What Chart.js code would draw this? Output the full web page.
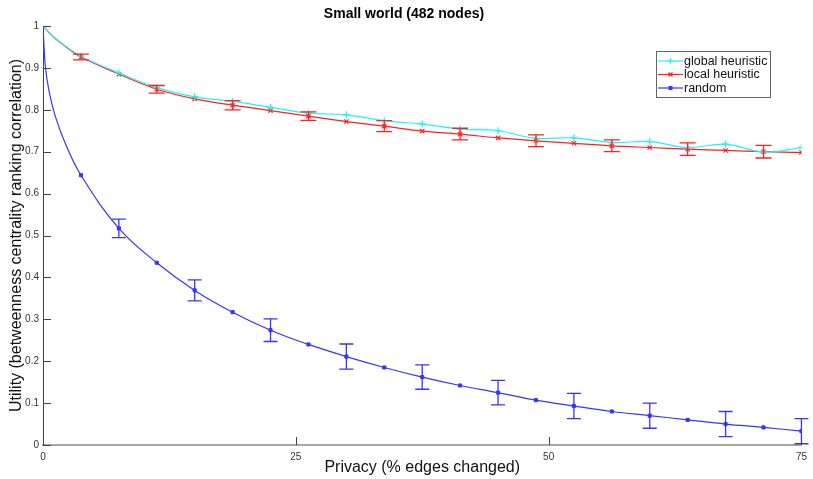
<!DOCTYPE html>
<html>
<head>
<meta charset="utf-8">
<script src="https://cdn.jsdelivr.net/npm/chart.js@4.4.0/dist/chart.umd.min.js"></script>
<style>
  html, body { margin: 0; padding: 0; background: #fff; }
  #chart { display: block; }
</style>
</head>
<body>
<canvas id="chart" width="813" height="479"></canvas>
<script>
// privacy levels where markers were plotted
const markerX = [3.75, 7.5, 11.25, 15, 18.75, 22.5, 26.25, 30, 33.75, 37.5,
                 41.25, 45, 48.75, 52.5, 56.25, 60, 63.75, 67.5, 71.25, 75];

const globalHeuristic = [0.928, 0.888, 0.853, 0.831, 0.820, 0.806, 0.792, 0.788, 0.774, 0.766,
                         0.754, 0.750, 0.732, 0.733, 0.722, 0.724, 0.710, 0.718, 0.699, 0.710];
const localHeuristic = [0.926, 0.885, 0.849, 0.826, 0.811, 0.798, 0.785, 0.772, 0.761, 0.749,
                        0.742, 0.733, 0.726, 0.720, 0.714, 0.710, 0.706, 0.703, 0.700, 0.698];
const randomUtil = [0.644, 0.517, 0.435, 0.369, 0.317, 0.274, 0.240, 0.211, 0.185, 0.162,
                    0.142, 0.125, 0.107, 0.093, 0.080, 0.070, 0.060, 0.050, 0.042, 0.033];

// error bar half-heights (null = no bar)
const localErr = [0.007, null, 0.009, null, 0.011, null, 0.010, null, 0.013, null,
                  0.014, null, 0.014, null, 0.014, null, 0.015, null, 0.015, null];
const randomErr = [null, 0.022, null, 0.025, null, 0.027, null, 0.030, null, 0.029,
                   null, 0.029, null, 0.030, null, 0.030, null, 0.030, null, 0.030];

// start of the curves (no markers)
const heurHeadX = [0, 1, 2];
const globalHead = [1, 0.975, 0.956];
const localHead = [1, 0.975, 0.955];
const randomHeadX = [0, 0.23, 0.59, 1.21, 2.29];
const randomHead = [1, 0.905, 0.845, 0.785, 0.715];

const yTicks = [0, 0.1, 0.2, 0.3, 0.4, 0.5, 0.6, 0.7, 0.8, 0.9, 1];
const xTicks = [0, 25, 50, 75];

function pts(headX, head, ys) {
  const a = headX.map((x, i) => ({ x, y: head[i] }));
  return a.concat(markerX.map((x, i) => ({ x, y: ys[i] })));
}
function radii(n, r) {
  return Array(n).fill(0).concat(markerX.map(() => r));
}

const FONT = '"Liberation Sans", Arial, Helvetica, sans-serif';

const datasets = [
  {
    label: 'global heuristic',
    data: pts(heurHeadX, globalHead, globalHeuristic),
    borderColor: '#22f2f2', backgroundColor: '#22f2f2',
    borderWidth: 1.2, pointStyle: 'cross',
    pointRadius: radii(heurHeadX.length, 3.5), pointBorderWidth: 1.3,
    tension: 0.4
  },
  {
    label: 'local heuristic',
    data: pts(heurHeadX, localHead, localHeuristic),
    borderColor: '#ff2020', backgroundColor: '#ff2020',
    borderWidth: 1.2, pointStyle: 'crossRot',
    pointRadius: radii(heurHeadX.length, 3), pointBorderWidth: 1.2,
    tension: 0.3,
    err: [null, null, null].concat(localErr), cap: 8
  },
  {
    label: 'random',
    data: pts(randomHeadX, randomHead, randomUtil),
    borderColor: '#3535ff', backgroundColor: '#3535ff',
    borderWidth: 1.2, pointStyle: 'rect',
    pointRadius: radii(randomHeadX.length, 2.2), pointBorderWidth: 1,
    tension: 0.4,
    err: [null, null, null, null, null].concat(randomErr), cap: 7
  }
];

// error bars, inward ticks and the boxed legend
const extras = {
  id: 'extras',
  afterDatasetsDraw(chart) {
    const ctx = chart.ctx;
    const xs = chart.scales.x, ys = chart.scales.y;
    const area = chart.chartArea;

    chart.data.datasets.forEach(ds => {
      if (!ds.err) return;
      ctx.save();
      ctx.strokeStyle = ds.borderColor;
      ctx.lineWidth = 1.3;
      ds.data.forEach((p, i) => {
        const e = ds.err[i];
        if (e == null) return;
        const px = xs.getPixelForValue(p.x);
        const top = ys.getPixelForValue(p.y + e);
        const bot = ys.getPixelForValue(p.y - e);
        ctx.beginPath();
        ctx.moveTo(px, top); ctx.lineTo(px, bot);
        ctx.moveTo(px - ds.cap, top); ctx.lineTo(px + ds.cap, top);
        ctx.moveTo(px - ds.cap, bot); ctx.lineTo(px + ds.cap, bot);
        ctx.stroke();
      });
      ctx.restore();
    });

    // ticks pointing into the plot
    ctx.save();
    ctx.strokeStyle = '#444';
    ctx.lineWidth = 1;
    yTicks.forEach(v => {
      const y = Math.round(ys.getPixelForValue(v)) + 0.5;
      ctx.beginPath(); ctx.moveTo(area.left, y); ctx.lineTo(area.left + 8, y); ctx.stroke();
    });
    xTicks.slice(1).forEach(v => {
      const x = Math.round(xs.getPixelForValue(v)) + 0.5;
      ctx.beginPath(); ctx.moveTo(x, area.bottom); ctx.lineTo(x, area.bottom - 8); ctx.stroke();
    });
    ctx.restore();

    // legend
    const lx = 656, ly = 51, lw = 114, lh = 46;
    ctx.save();
    ctx.fillStyle = '#fff';
    ctx.fillRect(lx, ly, lw, lh);
    ctx.strokeStyle = '#666';
    ctx.lineWidth = 1;
    ctx.strokeRect(lx + 0.5, ly + 0.5, lw, lh);
    ctx.font = '12.5px ' + FONT;
    ctx.textBaseline = 'middle';
    chart.data.datasets.forEach((ds, i) => {
      const y = ly + 10 + i * 13.5;
      ctx.strokeStyle = ds.borderColor;
      ctx.lineWidth = 1.2;
      ctx.beginPath(); ctx.moveTo(lx + 2, y); ctx.lineTo(lx + 27, y); ctx.stroke();
      ctx.fillStyle = ds.borderColor;
      if (ds.pointStyle === 'rect') {
        ctx.fillRect(lx + 12.5, y - 2, 4, 4);
      } else if (ds.pointStyle === 'cross') {
        ctx.beginPath();
        ctx.moveTo(lx + 14.5, y - 3); ctx.lineTo(lx + 14.5, y + 3);
        ctx.moveTo(lx + 11.5, y); ctx.lineTo(lx + 17.5, y);
        ctx.stroke();
      } else {
        ctx.beginPath();
        ctx.moveTo(lx + 12.5, y - 2); ctx.lineTo(lx + 16.5, y + 2);
        ctx.moveTo(lx + 16.5, y - 2); ctx.lineTo(lx + 12.5, y + 2);
        ctx.stroke();
      }
      ctx.fillStyle = '#111';
      ctx.fillText(ds.label, lx + 28, y + 0.5);
    });
    ctx.restore();
  }
};

new Chart(document.getElementById('chart'), {
  type: 'line',
  data: { datasets },
  plugins: [extras],
  options: {
    responsive: false,
    animation: false,
    layout: { padding: { left: 0, right: 5, top: 0, bottom: 0 } },
    plugins: {
      legend: { display: false },
      tooltip: { enabled: false },
      title: {
        display: true,
        text: 'Small world (482 nodes)',
        color: '#000',
        font: { family: FONT, size: 14, weight: 'bold', lineHeight: 1 },
        padding: { top: 7, bottom: 5 }
      }
    },
    scales: {
      x: {
        type: 'linear',
        min: 0, max: 75,
        afterBuildTicks: s => { s.ticks = xTicks.map(v => ({ value: v })); },
        afterFit: s => { s.height = 34; },
        grid: { display: false, drawTicks: false },
        border: { color: '#a8a8a8', width: 2 },
        ticks: { color: '#333', font: { family: FONT, size: 10 }, padding: 6, maxRotation: 0,
                 callback: v => String(v) },
        title: {
          display: true,
          text: 'Privacy (% edges changed)',
          color: '#111',
          font: { family: FONT, size: 16 },
          padding: { top: 0, bottom: 2 }
        }
      },
      y: {
        type: 'linear',
        min: 0, max: 1,
        afterBuildTicks: s => { s.ticks = yTicks.map(v => ({ value: v })); },
        afterFit: s => { s.width = 43; },
        grid: { display: false, drawTicks: false },
        border: { color: '#444', width: 1 },
        ticks: { color: '#333', font: { family: FONT, size: 10 }, padding: 4,
                 callback: v => String(v) },
        title: {
          display: true,
          text: 'Utility (betweenness centrality ranking correlation)',
          color: '#111',
          font: { family: FONT, size: 16 },
          padding: { top: 7, bottom: 0 }
        }
      }
    }
  }
});
</script>
</body>
</html>
